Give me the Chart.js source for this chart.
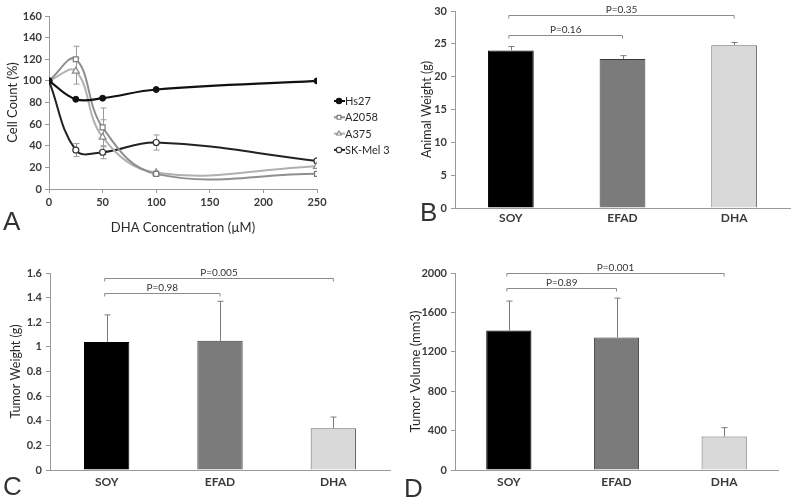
<!DOCTYPE html>
<html><head><meta charset="utf-8">
<script src="https://cdn.jsdelivr.net/npm/chart.js@4.4.0/dist/chart.umd.min.js"></script>
<style>
html,body{margin:0;padding:0;background:#fff;}
#wrap{position:relative;width:800px;height:502px;overflow:hidden;background:#fff;}
.p{position:absolute;}
</style></head><body>
<div id="wrap">
<div class="p" style="left:0;top:0;width:400px;height:250px"><canvas id="cA"></canvas></div>
<div class="p" style="left:400px;top:0;width:400px;height:250px"><canvas id="cB"></canvas></div>
<div class="p" style="left:0;top:250px;width:400px;height:252px"><canvas id="cC"></canvas></div>
<div class="p" style="left:400px;top:250px;width:400px;height:252px"><canvas id="cD"></canvas></div>
</div>
<script>
// ---------- Panel A data ----------
const concentrations = [0, 25, 50, 100, 250];
const hs27 = [100, 83, 84, 92, 100];
const hs27Err = [0, 0, 0, 0, 0];
const a2058 = [100, 120, 57, 14, 14];
const a2058Err = [0, 12, 18, 0, 0];
const a375 = [100, 109, 48, 15, 21];
const a375Err = [0, 12, 16, 0, 0];
const skmel3 = [100, 36, 34, 43, 26];
const skmel3Err = [0, 6, 6, 7, 0];
const cellLineNames = ['Hs27', 'A2058', 'A375', 'SK-Mel 3'];

// ---------- Panels B-D data ----------
const dietGroups = ['SOY', 'EFAD', 'DHA'];
const animalWeight = [24.0, 22.7, 24.8];
const animalWeightErr = [0.6, 0.5, 0.4];
const tumorWeight = [1.04, 1.05, 0.34];
const tumorWeightErr = [0.22, 0.32, 0.09];
const tumorVolume = [1415, 1345, 340];
const tumorVolumeErr = [300, 400, 90];

// significance brackets (group index from/to, bracket level in axis units, label)
const bFrom = [0, 0], bTo = [1, 2], bLevel = [26.35, 29.4], bText = ['P=0.16', 'P=0.35'];
const cFrom = [0, 0], cTo = [1, 2], cLevel = [1.437, 1.559], cText = ['P=0.98', 'P=0.005'];
const dFrom = [0, 0], dTo = [1, 2], dLevel = [1848, 2000], dText = ['P=0.89', 'P=0.001'];

const FAM = 'Lato, "Open Sans", sans-serif';
const TXT = '#2a2a2a';
const TICK = '#3a3a3a';
const AX = '#9a9a9a';

function drawErrors(chart, o) {
  const ctx = chart.ctx, ys = chart.scales.y;
  ctx.save();
  chart.data.datasets.forEach((ds, di) => {
    if (!ds.errors) return;
    const meta = chart.getDatasetMeta(di);
    meta.data.forEach((el, i) => {
      const e = ds.errors[i]; if (!e) return;
      const raw = ds.data[i];
      const v = (typeof raw === 'object') ? raw.y : raw;
      const top = ys.getPixelForValue(v + e);
      const bot = o.upOnly ? ys.getPixelForValue(v) : ys.getPixelForValue(v - e);
      const x = Math.round(el.x) + 0.5;
      ctx.strokeStyle = ds.errorColor || o.color || '#888';
      ctx.lineWidth = 1;
      ctx.beginPath();
      ctx.moveTo(x, bot); ctx.lineTo(x, top);
      const c = o.cap || 3;
      ctx.moveTo(x - c, top); ctx.lineTo(x + c, top);
      if (!o.upOnly) { ctx.moveTo(x - c, bot); ctx.lineTo(x + c, bot); }
      ctx.stroke();
    });
  });
  ctx.restore();
}
const errorBars = {
  id: 'errorBars',
  beforeDatasetsDraw(chart, a, o) { if (o.behind) drawErrors(chart, o); },
  afterDatasetsDraw(chart, a, o) { if (!o.behind) drawErrors(chart, o); }
};
const brackets = {
  id: 'brackets',
  afterDraw(chart, a, o) {
    if (!o.from) return;
    const ctx = chart.ctx, xs = chart.scales.x, ys = chart.scales.y;
    ctx.save();
    o.from.forEach((f, k) => {
      const x1 = xs.getPixelForValue(f) - 2, x2 = xs.getPixelForValue(o.to[k]);
      const yy = Math.round(ys.getPixelForValue(o.level[k])) + 0.5;
      ctx.strokeStyle = '#8a8a8a'; ctx.lineWidth = 1;
      ctx.beginPath();
      ctx.moveTo(x1, yy + 3); ctx.lineTo(x1, yy); ctx.lineTo(x2, yy); ctx.lineTo(x2, yy + 3);
      ctx.stroke();
      ctx.fillStyle = '#333'; ctx.font = '10px ' + FAM;
      ctx.textAlign = 'center'; ctx.textBaseline = 'bottom';
      ctx.fillText(o.text[k], (x1 + x2) / 2, yy - 1);
    });
    ctx.restore();
  }
};
const panelLetter = {
  id: 'panelLetter',
  afterDraw(chart, a, o) {
    if (!o.text) return;
    const ctx = chart.ctx;
    ctx.save();
    ctx.font = '26px "Liberation Sans", sans-serif';
    ctx.fillStyle = '#333'; ctx.textAlign = 'left'; ctx.textBaseline = 'alphabetic';
    ctx.fillText(o.text, o.x, o.y);
    ctx.restore();
  }
};
const lineLegend = {
  id: 'lineLegend',
  afterDraw(chart, a, o) {
    if (!o.x) return;
    const ctx = chart.ctx;
    ctx.save();
    chart.data.datasets.forEach((ds, i) => {
      const y = o.y + i * o.step;
      ctx.strokeStyle = ds.borderColor; ctx.lineWidth = 2;
      ctx.beginPath(); ctx.moveTo(o.x, y); ctx.lineTo(o.x + 11, y); ctx.stroke();
      ctx.fillStyle = ds.pointBackgroundColor; ctx.strokeStyle = ds.pointBorderColor; ctx.lineWidth = 1.1;
      Chart.helpers.drawPoint(ctx, { pointStyle: ds.pointStyle, radius: 2.7, rotation: 0, borderWidth: 1.1 }, o.x + 5, y);
      ctx.fillStyle = TXT; ctx.font = '11px ' + FAM; ctx.textAlign = 'left'; ctx.textBaseline = 'middle';
      ctx.fillText(ds.label, o.x + 11, y + 0.5);
    });
    ctx.restore();
  }
};

function pts(ys) { return concentrations.map((x, i) => ({ x: x, y: ys[i] })); }
const plainNum = v => String(Math.round(v * 100) / 100);

const tickFont = { family: FAM, size: 11, weight: 'bold' };

// ---------- Panel A ----------
new Chart(document.getElementById('cA'), {
  type: 'line',
  data: {
    datasets: [
      { label: cellLineNames[0], data: pts(hs27), errors: hs27Err, borderColor: '#111', borderWidth: 2.2,
        pointStyle: 'circle', pointRadius: 3, pointBackgroundColor: '#111', pointBorderColor: '#111', pointBorderWidth: 1, tension: 0.4 },
      { label: cellLineNames[1], data: pts(a2058), errors: a2058Err, borderColor: '#8f8f8f', borderWidth: 2,
        pointStyle: 'rect', pointRadius: 3.5, pointBackgroundColor: '#fff', pointBorderColor: '#7a7a7a', pointBorderWidth: 1.2, tension: 0.4 },
      { label: cellLineNames[2], data: pts(a375), errors: a375Err, borderColor: '#b0b0b0', borderWidth: 2,
        pointStyle: 'triangle', pointRadius: 4, pointBackgroundColor: '#fff', pointBorderColor: '#8a8a8a', pointBorderWidth: 1.2, tension: 0.4 },
      { label: cellLineNames[3], data: pts(skmel3), errors: skmel3Err, borderColor: '#222', borderWidth: 2,
        pointStyle: 'circle', pointRadius: 3, pointBackgroundColor: '#fff', pointBorderColor: '#333', pointBorderWidth: 1.2, tension: 0.4 }
    ]
  },
  options: {
    responsive: true, maintainAspectRatio: false, animation: false,
    layout: { padding: { left: 0, top: 16, right: 83, bottom: 0 } },
    plugins: {
      legend: { display: false }, tooltip: { enabled: false },
      errorBars: { behind: true, color: '#9a9a9a', cap: 3 },
      lineLegend: { x: 334, y: 101, step: 16.3 },
      panelLetter: { text: 'A', x: 3, y: 230 }
    },
    scales: {
      x: { type: 'linear', min: 0, max: 250,
        ticks: { stepSize: 50, color: TICK, font: tickFont, padding: 3, callback: plainNum },
        grid: { drawOnChartArea: false, drawTicks: true, tickLength: 4, color: AX },
        border: { color: AX },
        title: { display: true, text: 'DHA Concentration (µM)', color: TXT, font: { family: FAM, size: 13 }, padding: { top: 0, bottom: 14 } },
        afterFit: s => { s.height = 61; } },
      y: { min: 0, max: 160,
        ticks: { stepSize: 20, color: TICK, font: tickFont, padding: 3, callback: plainNum },
        grid: { drawOnChartArea: false, drawTicks: true, tickLength: 4, color: AX },
        border: { color: AX },
        title: { display: true, text: 'Cell Count (%)', color: TXT, font: { family: FAM, size: 13 }, padding: { top: 5, bottom: 0 } },
        afterFit: s => { s.width = 49; } }
    }
  },
  plugins: [errorBars, lineLegend, panelLetter]
});

// ---------- Bar panels ----------
function barChart(id, values, errs, yMax, yStep, yTitle, titleSize, titlePad, pad, yWidth, xHeight, xPad, bk, letter, barPct) {
  return new Chart(document.getElementById(id), {
    type: 'bar',
    data: {
      labels: dietGroups,
      datasets: [{ data: values, errors: errs,
        backgroundColor: ['#000000', '#7b7b7b', '#d9d9d9'],
        borderColor: ['#000000', '#3a3a3a', '#6a6a6a'], borderWidth: 1,
        categoryPercentage: 1, barPercentage: barPct }]
    },
    options: {
      responsive: true, maintainAspectRatio: false, animation: false,
      layout: { padding: pad },
      plugins: {
        legend: { display: false }, tooltip: { enabled: false },
        errorBars: { upOnly: true, color: '#7a7a7a', cap: 3 },
        brackets: bk,
        panelLetter: letter
      },
      scales: {
        x: { ticks: { color: TICK, font: { family: FAM, size: 12, weight: 'bold' }, padding: xPad },
          grid: { drawOnChartArea: false, drawTicks: false, color: AX },
          border: { color: AX },
          afterFit: s => { s.height = xHeight; } },
        y: { min: 0, max: yMax,
          ticks: { stepSize: yStep, color: TICK, font: tickFont, padding: 4, callback: plainNum },
          grid: { drawOnChartArea: false, drawTicks: true, tickLength: 4, color: AX },
          border: { color: AX },
          title: { display: true, text: yTitle, color: TXT, font: { family: FAM, size: titleSize }, padding: { top: titlePad, bottom: 0 } },
          afterFit: s => { s.width = yWidth; } }
      }
    },
    plugins: [errorBars, brackets, panelLetter]
  });
}

barChart('cB', animalWeight, animalWeightErr, 30, 5, 'Animal Weight (g)', 12.5, 19,
  { left: 0, top: 11, right: 10, bottom: 0 }, 55, 42, 3,
  { from: bFrom, to: bTo, level: bLevel, text: bText }, { text: 'B', x: 20, y: 221 }, 0.41);

barChart('cC', tumorWeight, tumorWeightErr, 1.6, 0.2, 'Tumor Weight (g)', 12.5, 8,
  { left: 0, top: 23, right: 10, bottom: 0 }, 50, 32, 5,
  { from: cFrom, to: cTo, level: cLevel, text: cText }, { text: 'C', x: 3, y: 245 }, 0.40);

barChart('cD', tumorVolume, tumorVolumeErr, 2000, 400, 'Tumor Volume (mm3)', 13, 8,
  { left: 0, top: 23, right: 22, bottom: 0 }, 55, 32, 5,
  { from: dFrom, to: dTo, level: dLevel, text: dText }, { text: 'D', x: 4, y: 247 }, 0.42);
</script>
</body></html>
